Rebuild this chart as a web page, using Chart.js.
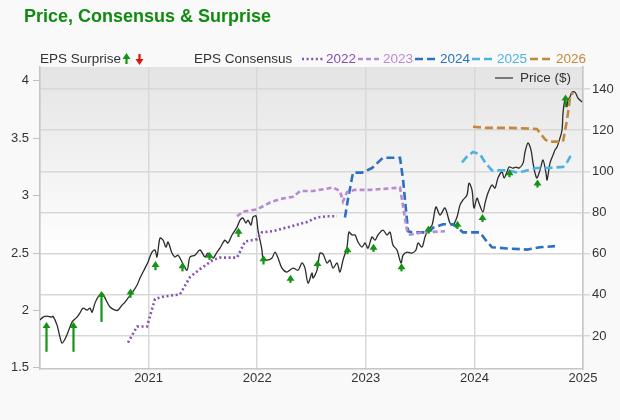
<!DOCTYPE html>
<html lang="en">
<head>
  <meta charset="UTF-8">
  <title>Price, Consensus & Surprise</title>
  <script src="https://cdn.jsdelivr.net/npm/chart.js"></script>
  <style>
    body { margin: 0; background: #f9f9f9; }
    canvas { display: block; }
  </style>
</head>
<body>
  <canvas id="chart" width="620" height="420"></canvas>

  <script>
    const chartTitle = 'Price, Consensus & Surprise';
    const yearTicks = [2020, 2021, 2022, 2023, 2024, 2025];
    const epsTicks = [1.5, 2, 2.5, 3, 3.5, 4];
    const priceTicks = [20, 40, 60, 80, 100, 120, 140];

    // price ($), right axis
    const priceT = [
      2020.000,2020.028,2020.064,2020.110,2020.120,2020.157,2020.184,2020.203,2020.230,2020.258,
      2020.295,2020.341,2020.368,2020.396,2020.433,2020.460,2020.479,2020.506,2020.534,2020.571,
      2020.599,2020.645,2020.691,2020.718,2020.755,2020.783,2020.810,2020.847,2020.893,2020.921,
      2020.967,2020.994,2021.031,2021.059,2021.077,2021.105,2021.133,2021.160,2021.179,2021.215,
      2021.243,2021.271,2021.308,2021.354,2021.381,2021.427,2021.473,2021.519,2021.547,2021.593,
      2021.630,2021.657,2021.703,2021.731,2021.768,2021.814,2021.842,2021.869,2021.897,2021.915,
      2021.943,2021.961,2021.989,2022.007,2022.044,2022.053,2022.090,2022.136,2022.164,2022.192,
      2022.228,2022.274,2022.330,2022.376,2022.413,2022.440,2022.468,2022.505,2022.514,2022.551,
      2022.578,2022.606,2022.643,2022.670,2022.698,2022.735,2022.762,2022.790,2022.827,2022.845,
      2022.873,2022.901,2022.928,2022.965,2022.993,2023.020,2023.057,2023.085,2023.112,2023.158,
      2023.195,2023.223,2023.250,2023.287,2023.324,2023.343,2023.379,2023.425,2023.462,2023.481,
      2023.517,2023.545,2023.573,2023.610,2023.646,2023.683,2023.729,2023.775,2023.803,2023.840,
      2023.867,2023.895,2023.932,2023.950,2023.978,2023.996,2024.024,2024.042,2024.079,2024.098,
      2024.125,2024.162,2024.190,2024.217,2024.254,2024.273,2024.300,2024.319,2024.355,2024.383,
      2024.411,2024.448,2024.466,2024.494,2024.521,2024.540,2024.558,2024.576,2024.604,2024.632,
      2024.659,2024.669,2024.696,2024.724,2024.742,2024.761,2024.788,2024.807,2024.816,2024.834,
      2024.853,2024.862,2024.880,2024.899,2024.926,2024.954,2024.991
    ];
    const priceV = [
      27.8,29.2,29.7,29.2,29.7,25.3,19.5,16.6,18.5,21.9,
      26.8,29.2,31.2,33.6,32.6,33.6,31.6,36.0,38.9,40.9,
      38.4,34.1,32.6,32.6,35.0,36.5,38.4,40.9,44.7,48.2,
      53.0,55.9,60.8,61.8,58.4,67.6,66.6,63.2,65.7,60.3,
      58.4,59.3,55.9,52.0,58.4,59.3,61.8,58.4,60.3,57.9,
      60.8,62.7,66.6,65.2,69.1,72.9,76.3,77.3,74.9,76.3,
      73.9,77.8,78.3,71.5,61.8,57.9,56.9,57.9,60.8,57.9,
      53.0,51.1,53.0,52.0,55.5,53.0,45.7,50.6,48.2,52.0,
      60.3,59.8,55.5,56.9,53.0,55.5,51.1,56.9,63.2,70.5,
      69.1,69.1,65.7,63.2,65.2,62.7,68.1,66.6,69.1,71.5,
      69.1,70.5,64.2,61.8,55.5,59.3,60.8,60.3,61.8,65.2,
      63.2,68.1,71.5,73.9,82.7,78.8,82.2,74.9,73.9,77.8,
      83.6,86.1,88.5,94.3,90.9,82.2,87.0,84.6,80.2,84.6,
      89.5,93.4,91.9,96.8,99.7,96.8,99.7,102.1,101.6,102.1,
      101.6,104.0,109.4,113.8,110.4,104.0,99.2,96.8,100.6,105.5,
      99.2,95.8,104.0,107.9,110.4,111.8,116.2,120.1,128.3,134.7,
      131.3,134.7,136.1,138.5,138.5,135.6,133.7
    ];

    // EPS consensus by fiscal year, left axis
    const c2022T = [2020.810,2020.893,2020.985,2021.059,2021.133,2021.289,2021.381,2021.473,2021.593,2021.657,
                    2021.814,2021.888,2021.998,2022.044,2022.145,2022.302,2022.459,2022.551,2022.643,2022.735];
    const c2022V = [1.72,1.86,1.86,2.10,2.12,2.14,2.29,2.36,2.44,2.46,
                    2.46,2.60,2.62,2.68,2.69,2.73,2.77,2.81,2.82,2.82];

    const c2023T = [2021.814,2021.869,2021.998,2022.118,2022.210,2022.330,2022.394,2022.514,2022.698,2022.762,
                    2022.790,2022.827,2022.901,2023.039,2023.315,2023.379,2023.407,2023.527,2023.729];
    const c2023V = [2.82,2.86,2.88,2.94,2.97,2.99,3.04,3.04,3.07,3.04,
                    2.95,3.03,3.05,3.05,3.07,2.70,2.66,2.68,2.69];

    const c2024T = [2022.808,2022.836,2022.882,2022.965,2023.057,2023.158,2023.315,2023.343,2023.389,2023.425,
                    2023.573,2023.619,2023.711,2023.803,2023.849,2023.895,2024.052,2024.098,2024.162,2024.300,
                    2024.484,2024.604,2024.742];
    const c2024V = [2.81,2.97,3.20,3.20,3.24,3.33,3.33,3.14,2.69,2.68,
                    2.68,2.72,2.75,2.75,2.72,2.68,2.68,2.62,2.55,2.54,
                    2.53,2.55,2.56];

    const c2025T = [2023.886,2023.932,2023.987,2024.052,2024.098,2024.162,2024.300,2024.401,2024.576,2024.669,
                    2024.816,2024.853,2024.899];
    const c2025V = [3.29,3.34,3.38,3.36,3.29,3.22,3.22,3.20,3.24,3.24,
                    3.25,3.29,3.37];

    const c2026T = [2023.987,2024.116,2024.328,2024.576,2024.650,2024.678,2024.816,2024.853,2024.880,2024.908];
    const c2026V = [3.60,3.59,3.59,3.58,3.49,3.47,3.47,3.66,3.85,3.90];

    // EPS surprise: estimate -> actual
    const surpriseT = [2020.055,2020.304,2020.562,2020.829,2021.059,2021.308,2021.556,2021.823,2022.053,2022.302,
                       2022.551,2022.827,2023.066,2023.324,2023.573,2023.840,2024.070,2024.319,2024.576,2024.834];
    const surpriseEst = [1.64,1.64,1.90,2.11,2.35,2.34,2.44,2.64,2.40,2.24,
                         2.37,2.49,2.51,2.34,2.67,2.71,2.77,3.16,3.07,3.77];
    const surpriseAct = [1.90,1.90,2.17,2.19,2.43,2.42,2.51,2.72,2.48,2.31,
                         2.44,2.56,2.58,2.41,2.74,2.78,2.84,3.23,3.14,3.88];

    const FONT = '"Liberation Sans", Arial, sans-serif';
    Chart.defaults.font.family = FONT;

    const series = [
      { label: '2022', t: c2022T, v: c2022V, color: '#8750b3', dash: [2, 2.6] },
      { label: '2023', t: c2023T, v: c2023V, color: '#b78bd0', dash: [5, 3] },
      { label: '2024', t: c2024T, v: c2024V, color: '#2c70c4', dash: [8, 4] },
      { label: '2025', t: c2025T, v: c2025V, color: '#4cb2e0', dash: [8, 4] },
      { label: '2026', t: c2026T, v: c2026V, color: '#c1893d', dash: [8, 4] }
    ];

    function pairs(t, v) {
      return t.map((x, i) => ({ x: x, y: v[i] }));
    }

    function drawArrow(ctx, x, tipY, baseY, color) {
      const up = tipY < baseY;
      const dir = up ? 1 : -1;
      ctx.fillStyle = color;
      ctx.strokeStyle = color;
      ctx.lineWidth = 2.2;
      ctx.setLineDash([]);
      ctx.beginPath();
      ctx.moveTo(x, baseY);
      ctx.lineTo(x, tipY + dir * 5);
      ctx.stroke();
      ctx.beginPath();
      ctx.moveTo(x, tipY);
      ctx.lineTo(x - 4, tipY + dir * 6);
      ctx.lineTo(x + 4, tipY + dir * 6);
      ctx.closePath();
      ctx.fill();
    }

    const backgroundPlugin = {
      id: 'background',
      beforeDraw(chart) {
        const { ctx, chartArea: a } = chart;
        ctx.save();
        ctx.fillStyle = '#f9f9f9';
        ctx.fillRect(0, 0, chart.width, chart.height);
        const g = ctx.createLinearGradient(0, a.top, 0, a.bottom);
        g.addColorStop(0, '#e4e4e4');
        g.addColorStop(0.62, '#ffffff');
        g.addColorStop(1, '#ffffff');
        ctx.fillStyle = g;
        ctx.fillRect(a.left, a.top, a.right - a.left, a.bottom - a.top);
        ctx.restore();
      }
    };

    const surprisePlugin = {
      id: 'surprise',
      afterDatasetsDraw(chart) {
        const { ctx, chartArea: a } = chart;
        const xs = chart.scales.x, ys = chart.scales.yEps;
        ctx.save();
        ctx.beginPath();
        ctx.rect(a.left, a.top, a.right - a.left, a.bottom - a.top);
        ctx.clip();
        surpriseT.forEach((t, i) => {
          const x = Math.round(xs.getPixelForValue(t)) + 0.5;
          const color = surpriseAct[i] >= surpriseEst[i] ? '#149414' : '#e01010';
          drawArrow(ctx, x, ys.getPixelForValue(surpriseAct[i]), ys.getPixelForValue(surpriseEst[i]), color);
        });
        ctx.restore();
      }
    };

    const headerPlugin = {
      id: 'header',
      afterDraw(chart) {
        const ctx = chart.ctx;
        ctx.save();
        ctx.textBaseline = 'middle';
        ctx.font = 'bold 18px ' + FONT;
        ctx.fillStyle = '#118a11';
        ctx.fillText(chartTitle, 24, 17);

        ctx.font = '13.5px ' + FONT;
        ctx.fillStyle = '#333';
        ctx.fillText('EPS Surprise', 40, 59);
        drawArrow(ctx, 126.5, 53, 64, '#149414');
        drawArrow(ctx, 139.5, 65, 54, '#e01010');
        ctx.fillStyle = '#333';
        ctx.fillText('EPS Consensus', 194, 59);

        const legendX = [[302, 324, 326], [358, 380, 383], [415, 439, 440], [472, 496, 497], [530, 554, 556]];
        series.forEach((s, i) => {
          const [x0, x1, tx] = legendX[i];
          ctx.strokeStyle = s.color;
          ctx.lineWidth = 2.5;
          ctx.setLineDash(s.dash);
          ctx.beginPath();
          ctx.moveTo(x0, 59);
          ctx.lineTo(x1, 59);
          ctx.stroke();
          ctx.setLineDash([]);
          ctx.fillStyle = s.color;
          ctx.fillText(s.label, tx, 59);
        });

        // price legend inside the plot
        ctx.strokeStyle = '#555';
        ctx.lineWidth = 1.5;
        ctx.beginPath();
        ctx.moveTo(495, 78);
        ctx.lineTo(513, 78);
        ctx.stroke();
        ctx.fillStyle = '#333';
        ctx.fillText('Price ($)', 520, 78);
        ctx.restore();
      }
    };

    const datasets = series.map(s => ({
      label: s.label,
      data: pairs(s.t, s.v),
      yAxisID: 'yEps',
      borderColor: s.color,
      borderWidth: 2.6,
      borderDash: s.dash,
      pointRadius: 0,
      tension: 0,
      fill: false
    }));
    datasets.push({
      label: 'Price ($)',
      data: pairs(priceT, priceV),
      yAxisID: 'yPrice',
      borderColor: '#2b2b2b',
      borderWidth: 1.3,
      pointRadius: 0,
      tension: 0.3,
      fill: false
    });

    const tickFont = { size: 13, family: FONT };

    new Chart(document.getElementById('chart').getContext('2d'), {
      type: 'line',
      data: { datasets: datasets },
      plugins: [backgroundPlugin, surprisePlugin, headerPlugin],
      options: {
        responsive: false,
        animation: false,
        layout: { padding: { top: 67, left: 0, right: 0, bottom: 0 } },
        plugins: { legend: { display: false }, tooltip: { enabled: false } },
        scales: {
          x: {
            type: 'linear',
            min: 2020,
            max: 2025,
            afterBuildTicks: s => { s.ticks = yearTicks.map(v => ({ value: v })); },
            afterFit: s => { s.height = 51; },
            grid: { color: '#d8d8d8', lineWidth: 1.5, tickLength: 0 },
            border: { color: '#c6c6c6', width: 1.5 },
            ticks: {
              padding: 2, color: '#333', font: tickFont, maxRotation: 0, autoSkip: false,
              callback: v => v === 2020 ? '' : String(v)
            }
          },
          yEps: {
            position: 'left',
            min: 1.49,
            max: 4.12,
            afterBuildTicks: s => { s.ticks = epsTicks.map(v => ({ value: v })); },
            afterFit: s => { s.width = 40; },
            grid: { drawOnChartArea: false, tickLength: 7, color: '#c0c0c0' },
            border: { color: '#c6c6c6', width: 1.5 },
            ticks: { padding: 4, color: '#333', font: tickFont, callback: v => String(v) }
          },
          yPrice: {
            position: 'right',
            min: 4,
            max: 150.7,
            afterBuildTicks: s => { s.ticks = priceTicks.map(v => ({ value: v })); },
            afterFit: s => { s.width = 37; },
            grid: { color: '#d8d8d8', lineWidth: 1.5, tickLength: 7 },
            border: { color: '#c6c6c6', width: 1.5 },
            ticks: { padding: 2, color: '#333', font: tickFont, callback: v => String(v) }
          }
        }
      }
    });
  </script>
</body>
</html>
